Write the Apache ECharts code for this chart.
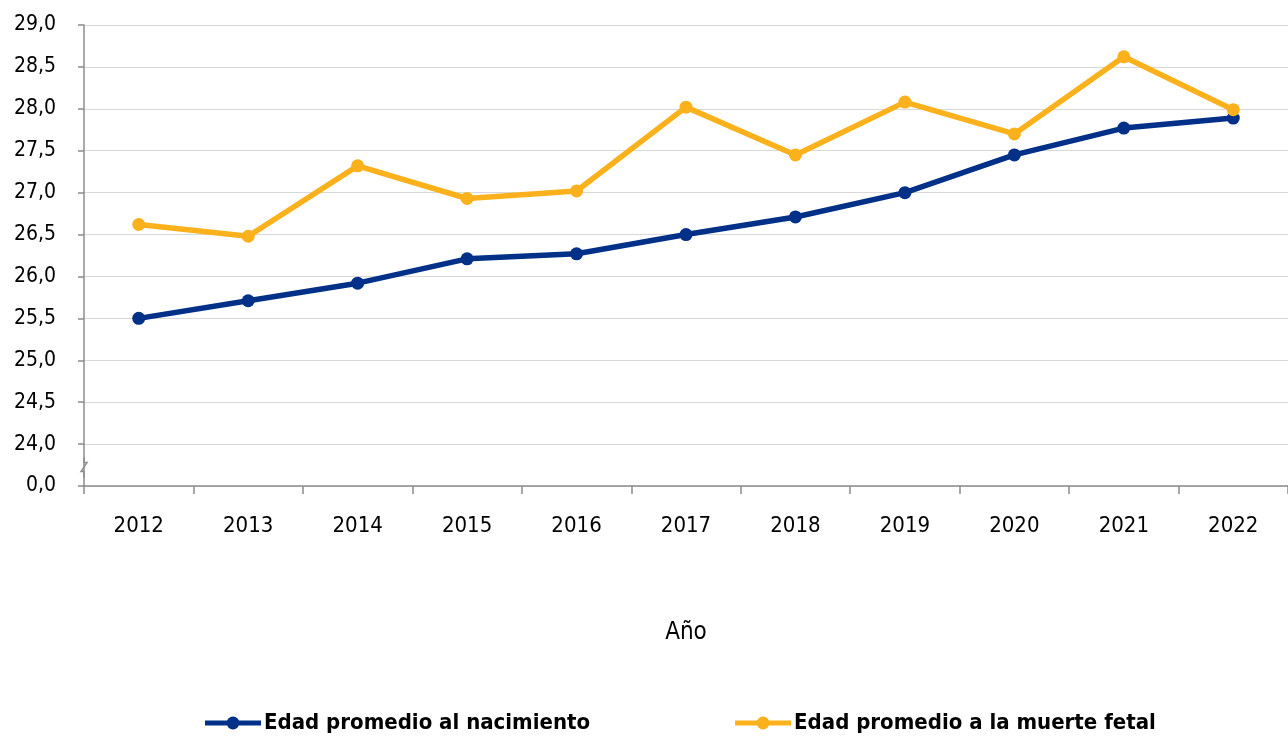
<!DOCTYPE html>
<html><head><meta charset="utf-8">
<script src="https://cdn.jsdelivr.net/npm/echarts@6/dist/echarts.min.js"></script>
<style>html,body{margin:0;padding:0;background:#fff}#c{width:1288px;height:738px}</style>
</head><body><div id="c"></div>
<script>
const years = ['2012','2013','2014','2015','2016','2017','2018','2019','2020','2021','2022'];
const nacimiento = [25.50, 25.71, 25.92, 26.21, 26.27, 26.50, 26.71, 27.00, 27.45, 27.77, 27.89];
const muerteFetal = [26.62, 26.48, 27.32, 26.93, 27.02, 28.02, 27.45, 28.08, 27.70, 28.62, 27.99];
const seriesNames = ['Edad promedio al nacimiento', 'Edad promedio a la muerte fetal'];
const xTitle = 'Año';
const FONT = '"DejaVu Sans Condensed", "Liberation Sans Narrow", "Arial Narrow", Roboto, sans-serif';
const ICON = 'path://M0,4H56V9H0Z M21.5,6.5a6.5,6.5 0 1,1 13,0a6.5,6.5 0 1,1 -13,0Z';

const chart = echarts.init(document.getElementById('c'));
chart.setOption({
  animation: false,
  textStyle: {fontFamily: FONT},
  grid: {left: 84, right: 0, top: 25, bottom: 252, containLabel: false},
  legend: {
    top: 707, left: 200, itemGap: 145, itemWidth: 56, itemHeight: 13,
    textStyle: {fontFamily: FONT, fontWeight: 'bold', fontSize: 22, color: '#000', padding: [0,0,0,-2]},
    data: [{name: seriesNames[0], icon: ICON}, {name: seriesNames[1], icon: ICON}]
  },
  xAxis: {
    type: 'category', data: years, boundaryGap: true,
    name: xTitle, nameLocation: 'middle', nameGap: 135,
    nameTextStyle: {fontFamily: FONT, fontSize: 24, color: '#000'},
    axisLine: {lineStyle: {color: '#8c8c8c', width: 1.5}},
    axisTick: {show: true, length: 8, lineStyle: {color: '#8c8c8c', width: 1.5}},
    axisLabel: {fontFamily: FONT, fontSize: 22, color: '#000', margin: 29},
    splitLine: {show: false}
  },
  yAxis: {
    type: 'value', min: 23.5, max: 29, interval: 0.5,
    axisLine: {show: true, lineStyle: {color: '#8c8c8c', width: 1.5}},
    axisTick: {show: true, length: 6, lineStyle: {color: '#8c8c8c', width: 1.5}},
    axisLabel: {fontFamily: FONT, fontSize: 21, color: '#000', margin: 28,
      formatter: v => Math.abs(v - 23.5) < 1e-6 ? '0,0' : v.toFixed(1).replace('.', ',')},
    splitLine: {show: true, lineStyle: {color: '#d9d9d9', width: 1}}
  },
  series: [
    {name: seriesNames[0], type: 'line', data: nacimiento, color: '#003087',
     symbol: 'circle', symbolSize: 13, lineStyle: {width: 5.5, color: '#003087'},
     itemStyle: {color: '#003087'}},
    {name: seriesNames[1], type: 'line', data: muerteFetal, color: '#FBB11B',
     symbol: 'circle', symbolSize: 13, lineStyle: {width: 5.5, color: '#FBB11B'},
     itemStyle: {color: '#FBB11B'}}
  ]
});
// axis break marker between 24,0 and 0,0
const yMid = chart.convertToPixel({yAxisIndex: 0}, 23.72);
const gridRect = chart.getModel().getComponent('grid').coordinateSystem.getRect();
const ax = gridRect.x;
chart.setOption({
  graphic: [{
    type: 'group', silent: true,
    children: [
      {type: 'rect', shape: {x: ax - 4, y: yMid - 5, width: 8, height: 10}, style: {fill: '#fff'}},
      {type: 'polyline', shape: {points: [[ax, yMid - 10], [ax, yMid - 5], [ax + 3, yMid - 5], [ax - 3, yMid + 4], [ax, yMid + 4], [ax, yMid + 10]]},
       style: {stroke: '#8c8c8c', lineWidth: 1.5, fill: null}}
    ]
  }]
});
</script></body></html>
